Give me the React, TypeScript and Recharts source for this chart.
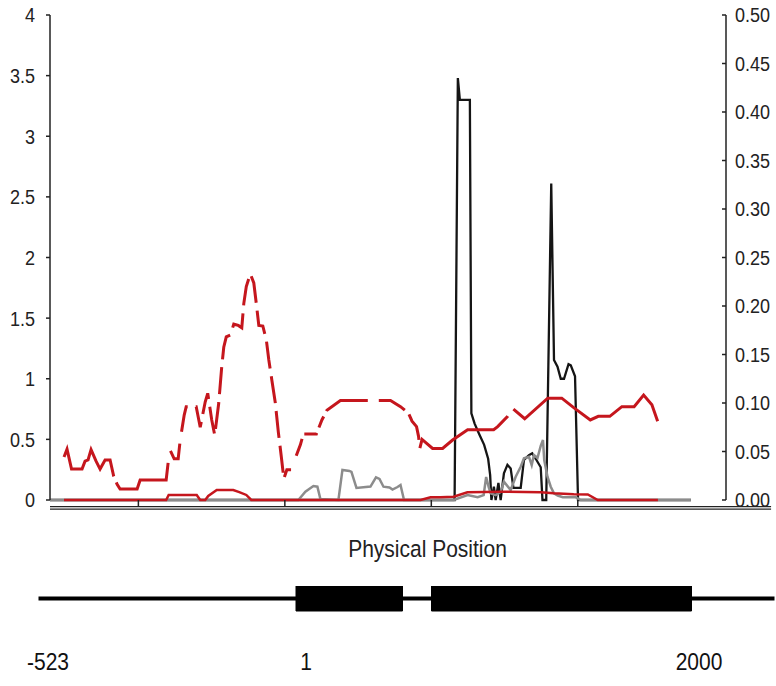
import React from 'react';
import { LineChart, Line, XAxis, YAxis, ReferenceLine, ReferenceArea, Label } from 'recharts';

const FONT = "'Liberation Sans', Arial, Helvetica, sans-serif";

// x = sliding-window index along the region; left axis values
const redDashedPos = [5.6, 6.8, 8.6, 12.8, 14, 15.2, 16.4, 18.4, 20, 22, 24, 25.4, 26.8, 28, 34.8, 36, 46.4, 47.2, 48, 49.6, 51.2, 52, 53.6, 54.4, 58.4, 60, 62, 63, 64.6, 65.8, 67.4, 68.6, 69.4, 70.4, 72, 73.4, 75.2, 76.6, 77.4, 78.4, 80, 81.4, 82.4, 83.4, 85, 86.4, 87.4, 88.6, 90, 91.2, 92.4, 93.4, 94.6, 96.4, 98, 100, 101.2, 106.4, 108.6, 110.6, 116, 136, 140, 143.2, 144.6, 146.4, 147.2, 147.7, 148.6, 152.8, 156.8, 160.8, 166.8, 177.2, 178.8, 182.8, 184.8, 189.6, 198.8, 204.4, 209.3, 215.8, 219, 223.6, 228.4, 233.3, 237.1, 240.4, 242.7];
const redDashedVal = [0.355, 0.42, 0.255, 0.255, 0.32, 0.33, 0.415, 0.32, 0.255, 0.33, 0.33, 0.2, 0.13, 0.09, 0.09, 0.165, 0.165, 0.31, 0.41, 0.34, 0.34, 0.495, 0.7, 0.77, 0.77, 0.6, 0.81, 0.88, 0.66, 0.535, 0.8, 1.1, 1.26, 1.345, 1.36, 1.45, 1.44, 1.42, 1.62, 1.76, 1.865, 1.79, 1.62, 1.44, 1.435, 1.32, 1.155, 0.99, 0.8, 0.56, 0.355, 0.175, 0.25, 0.25, 0.345, 0.455, 0.545, 0.545, 0.66, 0.74, 0.82, 0.82, 0.77, 0.715, 0.65, 0.605, 0.525, 0.425, 0.5, 0.425, 0.425, 0.495, 0.58, 0.58, 0.605, 0.69, 0.755, 0.67, 0.84, 0.84, 0.76, 0.66, 0.69, 0.69, 0.77, 0.77, 0.865, 0.785, 0.65];

const blackPos = [0, 161.6, 162.9, 163.7, 167.7, 168.3, 169.6, 171.4, 173.4, 175, 175.8, 176.3, 177.3, 178, 179.1, 180, 181.3, 182.7, 184, 185.1, 188, 189.3, 191.3, 192.6, 194, 196, 196.7, 198.2, 200.2, 201.3, 202.7, 204, 205.3, 207.1, 208, 209.7, 210.9, 256];
const blackVal = [0, 0, 3.48, 3.3, 3.3, 0.715, 0.63, 0.545, 0.455, 0.34, 0.205, 0, 0.11, 0, 0.14, 0, 0.22, 0.29, 0.26, 0.1, 0.1, 0.33, 0.37, 0.385, 0.34, 0.27, 0, 0, 2.61, 1.155, 1.1, 1.0, 1.0, 1.12, 1.11, 1.02, 0, 0];

// right axis values
const grayPos = [0, 99.2, 102, 105.2, 106.8, 108, 115.2, 116.8, 119.6, 120.4, 122.4, 128, 130.2, 131.6, 133.2, 135.6, 136.8, 138.8, 140, 141.4, 161.2, 166.8, 170.8, 173.2, 174.2, 175.2, 176, 178, 180, 181.3, 184, 186, 188, 189.3, 191.3, 192.4, 193.3, 194.7, 196, 196.9, 197.4, 198.7, 200, 201.3, 202.8, 204.8, 210, 212, 256];
const grayVal = [0, 0, 0.0086, 0.0144, 0.0137, 0.001, 0, 0.031, 0.03, 0.029, 0.0124, 0.0139, 0.0234, 0.0217, 0.0137, 0.0129, 0.0108, 0.0134, 0.0155, 0, 0, 0.005, 0.0028, 0.005, 0.0237, 0.0134, 0.0069, 0.005, 0.0082, 0.0189, 0.0103, 0.024, 0.0343, 0.043, 0.0446, 0.036, 0.0464, 0.0433, 0.0557, 0.0619, 0.0412, 0.024, 0.0137, 0.0069, 0.0046, 0.0028, 0.0028, 0, 0];

const redSolidPos = [5.6, 46.4, 47.4, 58.6, 60, 62, 63.2, 66.6, 73.2, 75.6, 78.4, 80.4, 148, 152, 156, 161.2, 166.7, 180, 196, 201.2, 209.2, 214.8, 218.8, 242.8];
const redSolidVal = [0, 0, 0.0052, 0.0052, 0, 0, 0.0041, 0.0103, 0.0103, 0.0082, 0.0052, 0, 0, 0.0028, 0.0028, 0.0034, 0.008, 0.0086, 0.008, 0.0069, 0.0059, 0.0057, 0, 0];

const leftTicks = [0, 0.5, 1, 1.5, 2, 2.5, 3, 3.5, 4];
const rightTicks = [0, 0.05, 0.1, 0.15, 0.2, 0.25, 0.3, 0.35, 0.4, 0.45, 0.5];
const xTickPos = [35.3, 93.8, 152.3, 210.8];

// gene structure (same window coordinates)
const geneSpan = [-4.6, 289.8];
const exonStarts = [98.4, 152.6];
const exonEnds = [141, 256.6];
const geneLabelPos = [-0.8, 102.4, 259.6];
const geneLabels = ['-523', '1', '2000'];

const zip = (p: number[], v: number[]) => p.map((w, i) => ({ w, v: v[i] }));
const redDashedData = zip(redDashedPos, redDashedVal);
const blackData = zip(blackPos, blackVal);
const grayData = zip(grayPos, grayVal);
const redSolidData = zip(redSolidPos, redSolidVal);
const geneLineData = geneSpan.map((w) => ({ w, y: 0.5 }));

const RED = '#c5161d';
const AXIS = '#222';
const SY = 1.16;

const middle: string[] = [];
for (let i = 0; i < 15; i++) middle.push('27 8');
const DASH = ['115.5 6.5 77.5 13.5 28 12', ...middle, '12 15 18 6 13 6 12 6 45 11 29 6 28 9 110 10 3000'].join(' ');

const XTick = (props: any) => {
  const { x, y } = props;
  return <line x1={x} x2={x} y1={y} y2={y + 6.5} stroke={AXIS} strokeWidth={1.5} />;
};

const LeftTick = (props: any) => {
  const { x, y, payload } = props;
  return (
    <text transform={`translate(${x},${y}) scale(1,${SY})`} x={0} y={0} dy={6.45} textAnchor="end" fontSize={18} fill={AXIS} fontFamily={FONT}>
      {String(payload.value)}
    </text>
  );
};

const RightTick = (props: any) => {
  const { x, y, payload } = props;
  return (
    <g>
      <line x1={x - 13} x2={x - 9} y1={y} y2={y} stroke={AXIS} strokeWidth={1.5} />
      <text transform={`translate(${x},${y}) scale(1,${SY})`} x={0} y={0} dy={6.45} textAnchor="start" fontSize={18} fill={AXIS} fontFamily={FONT}>
        {Number(payload.value).toFixed(2)}
      </text>
    </g>
  );
};

const GeneTick = (props: any) => {
  const { x, y, payload } = props;
  return (
    <text transform={`translate(${x},${y + 58.5}) scale(1,${SY})`} x={0} y={0} textAnchor="middle" fontSize={21} fill="#111" fontFamily={FONT}>
      {geneLabels[geneLabelPos.indexOf(payload.value)]}
    </text>
  );
};

const TitleLabel = (props: any) => {
  const vb = props.viewBox || { x: 50, y: 500, width: 676 };
  return (
    <text transform={`translate(${vb.x + vb.width / 2 + 39.5},${vb.y + 56.5}) scale(1,${SY})`} x={0} y={0} textAnchor="middle" fontSize={21} fill={AXIS} fontFamily={FONT}>
      Physical Position
    </text>
  );
};

export default function App() {
  return (
    <div style={{ position: 'absolute', left: 0, top: 0, width: 776, height: 686, background: '#fff', fontFamily: FONT, overflow: 'hidden' }}>
      <div style={{ position: 'absolute', left: 0, top: 0 }}>
        <LineChart width={776} height={575} margin={{ top: 15, right: 0, bottom: 0, left: 0 }}>
          <XAxis
            xAxisId={0}
            type="number"
            dataKey="w"
            domain={[0, 270]}
            ticks={xTickPos}
            interval={0}
            height={75}
            axisLine={false}
            tickLine={false}
            tickSize={0}
            tickMargin={0}
            tick={<XTick />}
          >
            <Label content={TitleLabel} />
          </XAxis>
          <YAxis
            yAxisId="left"
            domain={[0, 4]}
            ticks={leftTicks}
            interval={0}
            width={50}
            tickSize={4}
            tickMargin={11}
            axisLine={{ stroke: AXIS, strokeWidth: 1.5 }}
            tickLine={{ stroke: AXIS, strokeWidth: 1.5 }}
            tick={<LeftTick />}
          />
          <YAxis
            yAxisId="right"
            orientation="right"
            domain={[0, 0.5]}
            ticks={rightTicks}
            interval={0}
            width={50}
            tickSize={4}
            tickMargin={5}
            axisLine={{ stroke: AXIS, strokeWidth: 1.5 }}
            tickLine={false}
            tick={<RightTick />}
          />
          <ReferenceLine yAxisId="left" segment={[{ x: 0, y: -0.0553 }, { x: 288, y: -0.0553 }]} ifOverflow="visible" stroke={AXIS} strokeWidth={1.3} />
          <ReferenceLine yAxisId="left" segment={[{ x: 0, y: -0.0759 }, { x: 288, y: -0.0759 }]} ifOverflow="visible" stroke={AXIS} strokeWidth={1.3} />
          <Line yAxisId="left" data={blackData} dataKey="v" type="linear" stroke="#151515" strokeWidth={2.3} dot={false} activeDot={false} isAnimationActive={false} />
          <Line yAxisId="right" data={grayData} dataKey="v" type="linear" stroke="#8c8c8c" strokeWidth={2.5} dot={false} activeDot={false} isAnimationActive={false} />
          <Line yAxisId="right" data={redSolidData} dataKey="v" type="linear" stroke={RED} strokeWidth={2.5} dot={false} activeDot={false} isAnimationActive={false} />
          <Line yAxisId="left" data={redDashedData} dataKey="v" type="linear" stroke={RED} strokeWidth={3} strokeDasharray={DASH} dot={false} activeDot={false} isAnimationActive={false} />
        </LineChart>
      </div>
      <div style={{ position: 'absolute', left: 0, top: 586 }}>
        <LineChart width={776} height={100} margin={{ top: 0, right: 0, bottom: 0, left: 0 }}>
          <XAxis
            type="number"
            dataKey="w"
            domain={[-20, 290.4]}
            allowDataOverflow
            ticks={geneLabelPos}
            interval={0}
            height={75}
            axisLine={false}
            tickLine={false}
            tickSize={0}
            tickMargin={0}
            tick={<GeneTick />}
          />
          <YAxis hide domain={[0, 1]} />
          {exonStarts.map((s, i) => (
            <ReferenceArea key={i} x1={s} x2={exonEnds[i]} y1={0} y2={1} fill="#000" fillOpacity={1} stroke="#000" strokeWidth={1} ifOverflow="visible" />
          ))}
          <Line data={geneLineData} dataKey="y" type="linear" stroke="#000" strokeWidth={4} dot={false} activeDot={false} isAnimationActive={false} />
        </LineChart>
      </div>
    </div>
  );
}
